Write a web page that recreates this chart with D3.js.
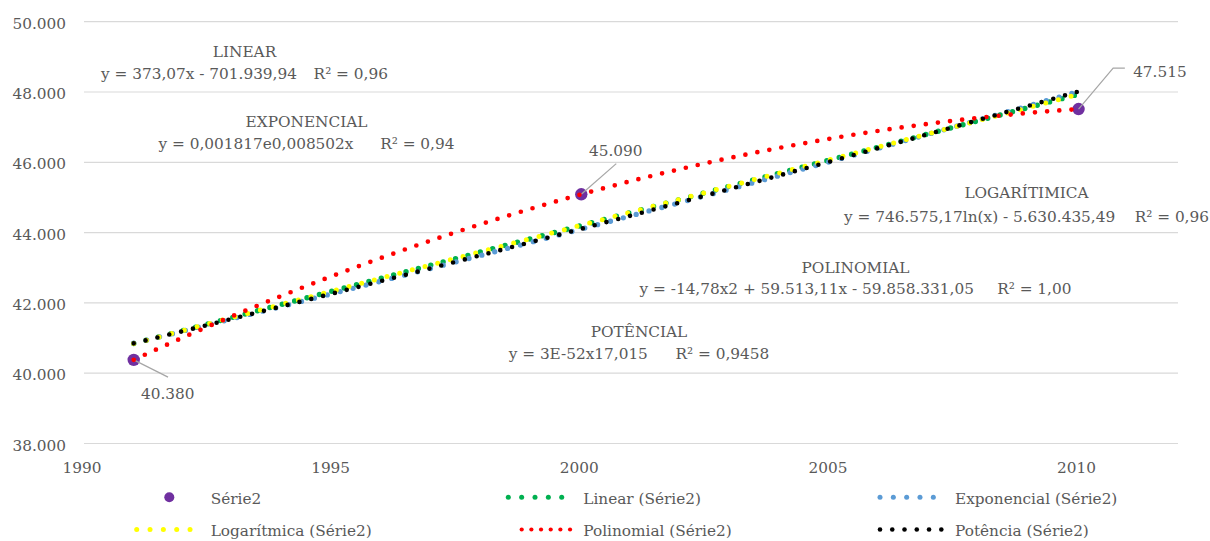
<!DOCTYPE html>
<html>
<head>
<meta charset="utf-8">
<script src="https://cdn.jsdelivr.net/npm/d3@7"></script>
<style>
  html, body { margin: 0; padding: 0; background: #fff; }
  svg { display: block; }
  text { font-family: "DejaVu Serif", serif; fill: #595959; }
</style>
</head>
<body>
<svg id="chart" width="1210" height="541"></svg>
<script>
// ---------- DATA ----------
const years = [1991, 2000, 2010];
const values = [40380, 45090, 47515];
const pointLabels = ["40.380", "45.090", "47.515"];
const seriesName = "Série2";

const xTicks = [1990, 1995, 2000, 2005, 2010];
const yTicks = [38000, 40000, 42000, 44000, 46000, 48000, 50000];

const trendKinds = ["linear", "exponential", "logarithmic", "polynomial", "power"];
const trendNames = ["Linear (Série2)", "Exponencial (Série2)", "Logarítmica (Série2)", "Polinomial (Série2)", "Potência (Série2)"];
const trendColors = ["#00B050", "#5B9BD5", "#FFFF00", "#FF0000", "#000000"];
const trendTitles = ["LINEAR", "EXPONENCIAL", "LOGARÍTIMICA", "POLINOMIAL", "POTÊNCIAL"];
const trendEquations = ["y = 373,07x - 701.939,94", "y = 0,001817e0,008502x", "y = 746.575,17ln(x) - 5.630.435,49", "y = -14,78x2 + 59.513,11x - 59.858.331,05", "y = 3E-52x17,015"];
const trendR2 = ["R² = 0,96", "R² = 0,94", "R² = 0,96", "R² = 1,00", "R² = 0,9458"];

// ---------- LAYOUT ----------
const svg = d3.select("#chart");
const FS = 15.3;
const x = d3.scaleLinear().domain([1990, 2012]).range([84, 1178]);
const y = d3.scaleLinear().domain([38000, 50000]).range([443.5, 21.7]);
const fmt = d3.formatLocale({decimal: ",", thousands: ".", grouping: [3], currency: ["", ""]}).format(",.0f");

// gridlines
svg.append("g").selectAll("line").data(yTicks).join("line")
  .attr("x1", x.range()[0]).attr("x2", x.range()[1])
  .attr("y1", d => y(d)).attr("y2", d => y(d))
  .attr("stroke", "#d9d9d9").attr("stroke-width", 1.2);

// y tick labels
svg.append("g").selectAll("text").data(yTicks).join("text")
  .attr("x", 66).attr("y", d => y(d) + 7)
  .attr("text-anchor", "end").attr("font-size", FS)
  .text(d => fmt(d));

// x tick labels
svg.append("g").selectAll("text").data(xTicks).join("text")
  .attr("x", d => x(d) - 2).attr("y", 473)
  .attr("text-anchor", "middle").attr("font-size", FS)
  .text(d => d);

// ---------- REGRESSIONS ----------
function lsq(xs, ys) {
  const mx = d3.mean(xs), my = d3.mean(ys);
  let sxy = 0, sxx = 0;
  xs.forEach((v, i) => { sxy += (v - mx) * (ys[i] - my); sxx += (v - mx) * (v - mx); });
  const b = sxy / sxx;
  return {a: my - b * mx, b};
}
function polyFit(xs, ys, deg) {
  const m = d3.mean(xs);
  const xc = xs.map(v => v - m);
  const n = deg + 1;
  const A = Array.from({length: n}, () => new Array(n + 1).fill(0));
  xc.forEach((v, k) => {
    for (let i = 0; i < n; i++) {
      for (let j = 0; j < n; j++) A[i][j] += Math.pow(v, i + j);
      A[i][n] += Math.pow(v, i) * ys[k];
    }
  });
  for (let i = 0; i < n; i++) {
    let p = i;
    for (let r = i + 1; r < n; r++) if (Math.abs(A[r][i]) > Math.abs(A[p][i])) p = r;
    [A[i], A[p]] = [A[p], A[i]];
    for (let r = 0; r < n; r++) {
      if (r === i) continue;
      const f = A[r][i] / A[i][i];
      for (let c = i; c <= n; c++) A[r][c] -= f * A[i][c];
    }
  }
  const coef = A.map((row, i) => row[n] / row[i]);
  return t => coef.reduce((s, c, i) => s + c * Math.pow(t - m, i), 0);
}
const lnY = values.map(Math.log), lnX = years.map(Math.log);
const fits = {
  linear: (() => { const f = lsq(years, values); return t => f.a + f.b * t; })(),
  exponential: (() => { const f = lsq(years, lnY); return t => Math.exp(f.a + f.b * t); })(),
  logarithmic: (() => { const f = lsq(lnX, values); return t => f.a + f.b * Math.log(t); })(),
  polynomial: polyFit(years, values, 2),
  power: (() => { const f = lsq(lnX, lnY); return t => Math.exp(f.a + f.b * Math.log(t)); })()
};

// ---------- SERIES MARKERS ----------
const pts = years.map((yr, i) => ({yr, v: values[i], label: pointLabels[i]}));
svg.append("g").selectAll("circle").data(pts).join("circle")
  .attr("cx", d => x(d.yr)).attr("cy", d => y(d.v)).attr("r", 6.2)
  .attr("fill", "#7030A0");

// leader lines (relative offsets from markers)
const leaderOffsets = [[[34.3, 17.3]], [[35, -30.7]], [[34.6, -41], [46.3, -41]]];
svg.append("g").selectAll("path").data(pts).join("path")
  .attr("d", (d, i) => {
    const cx = x(d.yr), cy = y(d.v);
    return "M" + cx + "," + cy + leaderOffsets[i].map(o => "L" + (cx + o[0]) + "," + (cy + o[1])).join("");
  })
  .attr("fill", "none").attr("stroke", "#A6A6A6").attr("stroke-width", 1.2);

// ---------- TRENDLINES ----------
const trendStyle = {
  linear: {w: 5.4, gap: 12.8},
  exponential: {w: 5.3, gap: 13.3},
  logarithmic: {w: 5.0, gap: 13.1},
  polynomial: {w: 4.7, gap: 12.2},
  power: {w: 4.6, gap: 12.2}
};
const samples = d3.range(0, 301).map(i => years[0] + (years[years.length - 1] - years[0]) * i / 300);
const lineGen = d3.line().x(d => x(d[0])).y(d => y(d[1]));
svg.append("g").selectAll("path").data(trendKinds).join("path")
  .attr("d", k => lineGen(samples.map(t => [t, fits[k](t)])))
  .attr("fill", "none")
  .attr("stroke", (k, i) => trendColors[i])
  .attr("stroke-width", k => trendStyle[k].w)
  .attr("stroke-linecap", "round")
  .attr("stroke-dasharray", k => "0 " + trendStyle[k].gap);

// data labels
const labelPos = [{dx: 34, dy: 39.6, anchor: "middle"}, {dx: 34.5, dy: -38.3, anchor: "middle"}, {dx: 54.6, dy: -32, anchor: "start"}];
svg.append("g").selectAll("text").data(pts).join("text")
  .attr("x", (d, i) => x(d.yr) + labelPos[i].dx)
  .attr("y", (d, i) => y(d.v) + labelPos[i].dy)
  .attr("text-anchor", (d, i) => labelPos[i].anchor)
  .attr("font-size", FS)
  .text(d => d.label);

// trendline equation labels
const eqLayout = [
  {cx: 244.5, ty: 56.7, ey: 79.3, gap: 16.7},
  {cx: 306.5, ty: 126.7, ey: 149, gap: 26.7},
  {cx: 1026.5, ty: 198.3, ey: 221.7, gap: 19.5},
  {cx: 855.5, ty: 272.7, ey: 294, gap: 23.3},
  {cx: 639, ty: 336.7, ey: 359, gap: 27.7}
];
const eqG = svg.append("g").selectAll("g").data(trendKinds).join("g");
eqG.append("text")
  .attr("x", (k, i) => eqLayout[i].cx).attr("y", (k, i) => eqLayout[i].ty)
  .attr("text-anchor", "middle").attr("font-size", FS)
  .text((k, i) => trendTitles[i]);
const eqT = eqG.append("text")
  .attr("x", (k, i) => eqLayout[i].cx).attr("y", (k, i) => eqLayout[i].ey)
  .attr("text-anchor", "middle").attr("font-size", FS);
eqT.append("tspan").text((k, i) => trendEquations[i]);
eqT.append("tspan").attr("dx", (k, i) => eqLayout[i].gap).text((k, i) => trendR2[i]);

// ---------- LEGEND ----------
const legendRows = [497.3, 529.5];
const legendTextX = [210.7, 583.3, 955];
const legendItems = [{name: seriesName, kind: "marker", row: 0, col: 0}]
  .concat(trendKinds.map((k, i) => ({name: trendNames[i], kind: k, color: trendColors[i], row: [0, 0, 1, 1, 1][i], col: [1, 2, 0, 1, 2][i]})));
const legendSym = {
  linear: {start: 508.3, n: 5, step: 13.35, r: 2.5},
  exponential: {start: 880, n: 5, step: 13.33, r: 2.5},
  logarithmic: {start: 136.7, n: 5, step: 13.33, r: 2.5},
  polynomial: {start: 521.7, n: 6, step: 9.67, r: 2.1},
  power: {start: 880, n: 6, step: 12.26, r: 2.3}
};
const lg = svg.append("g").selectAll("g").data(legendItems).join("g");
lg.append("text")
  .attr("x", d => legendTextX[d.col]).attr("y", d => legendRows[d.row] + 6.3)
  .attr("font-size", FS).text(d => d.name);
lg.each(function(d) {
  const g = d3.select(this);
  const cy = legendRows[d.row];
  if (d.kind === "marker") {
    g.append("circle").attr("cx", 169.3).attr("cy", cy).attr("r", 5).attr("fill", "#7030A0");
  } else {
    const s = legendSym[d.kind];
    g.selectAll("circle").data(d3.range(s.n)).join("circle")
      .attr("cx", j => s.start + j * s.step).attr("cy", cy).attr("r", s.r).attr("fill", d.color);
  }
});
</script>
</body>
</html>
